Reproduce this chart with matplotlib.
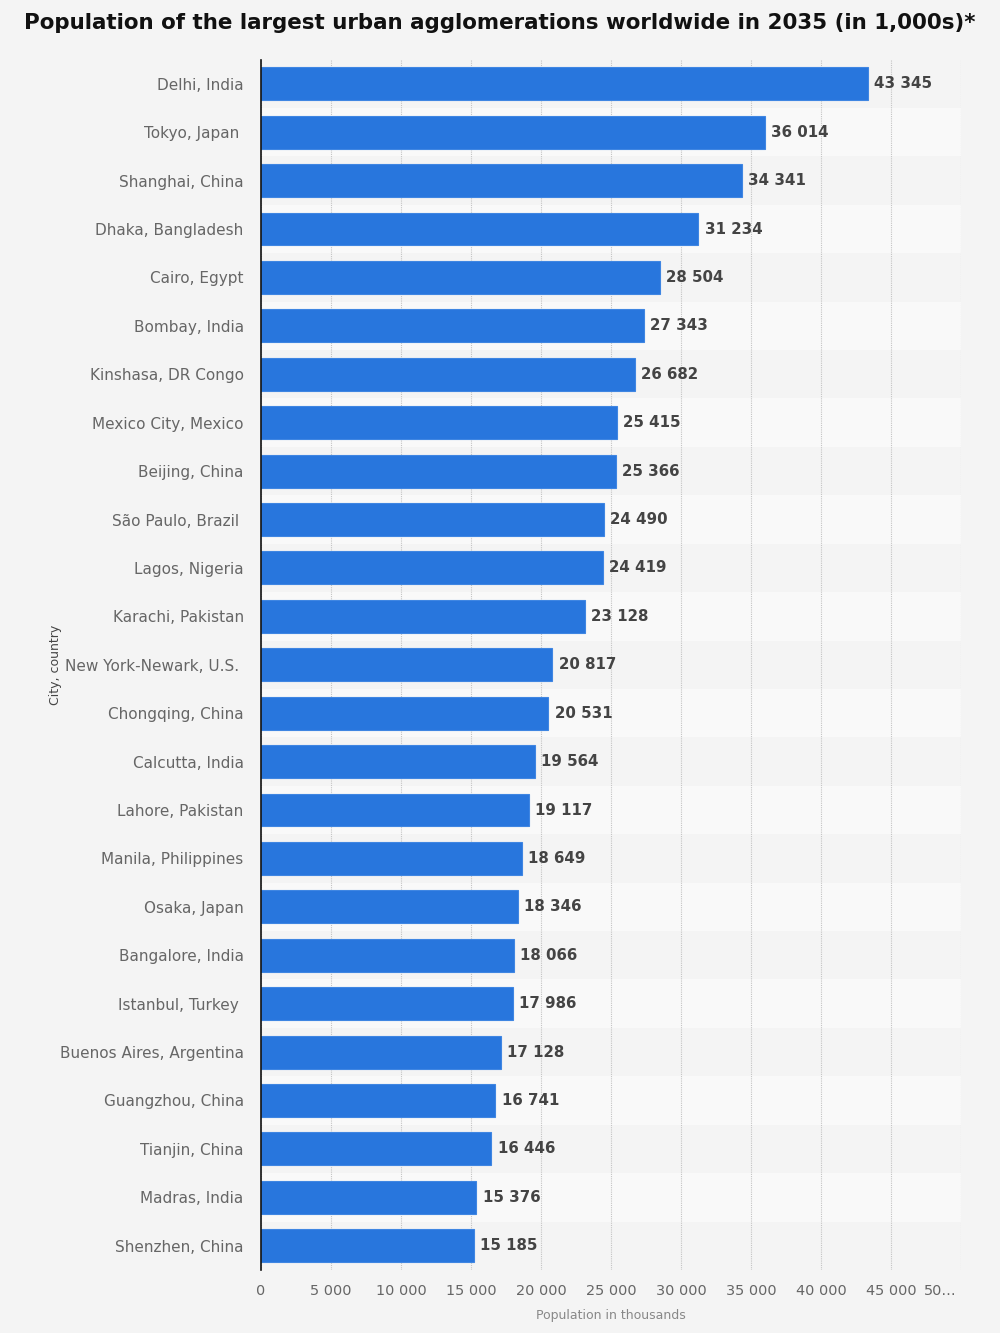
import matplotlib
matplotlib.use("Agg")
import matplotlib.pyplot as plt
import matplotlib.transforms as mtransforms

cities = [
    "Delhi, India", "Tokyo, Japan ", "Shanghai, China", "Dhaka, Bangladesh",
    "Cairo, Egypt", "Bombay, India", "Kinshasa, DR Congo", "Mexico City, Mexico",
    "Beijing, China", "São Paulo, Brazil ", "Lagos, Nigeria", "Karachi, Pakistan",
    "New York-Newark, U.S. ", "Chongqing, China", "Calcutta, India",
    "Lahore, Pakistan", "Manila, Philippines", "Osaka, Japan", "Bangalore, India",
    "Istanbul, Turkey ", "Buenos Aires, Argentina", "Guangzhou, China",
    "Tianjin, China", "Madras, India", "Shenzhen, China",
]
population = [
    43345, 36014, 34341, 31234, 28504, 27343, 26682, 25415, 25366, 24490,
    24419, 23128, 20817, 20531, 19564, 19117, 18649, 18346, 18066, 17986,
    17128, 16741, 16446, 15376, 15185,
]
x_ticks = [0, 5000, 10000, 15000, 20000, 25000, 30000, 35000, 40000, 45000, 50000]
x_tick_labels = ["0", "5 000", "10 000", "15 000", "20 000", "25 000",
                 "30 000", "35 000", "40 000", "45 000", "50…"]

BG = "#f4f4f4"
BAND = "#f9f9f9"
BAR = "#2876dd"

plt.rcParams['font.family'] = ['DejaVu Sans']

fig = plt.figure(figsize=(10, 13.33), dpi=100, facecolor=BG)
ax = fig.add_axes([0.261, 0.0473, 0.70, 0.908])
ax.set_facecolor(BG)

n = len(cities)
ypos = list(range(n))

# alternating row bands
for i in ypos:
    ax.axhspan(i - 0.5, i + 0.5, color=BAND if i % 2 else BG, zorder=0, lw=0)

ax.barh(ypos, population, height=0.68, color=BAR, edgecolor="#3f86e2",
        linewidth=0.8, zorder=3)

for y, v in zip(ypos, population):
    ax.text(v + 450, y, f"{v:,}".replace(",", " "), va="center", ha="left",
            fontsize=10.8, fontweight="bold", color="#444444", zorder=4)

ax.set_ylim(n - 0.5, -0.5)
ax.set_xlim(0, 50000)
ax.set_yticks(ypos)
ax.set_yticklabels(cities, fontsize=11, color="#666666")
ax.set_xticks(x_ticks)
ax.set_xticklabels(x_tick_labels, fontsize=10.4, color="#666666")
ax.tick_params(axis="both", length=0)
ax.tick_params(axis="x", pad=10)
ax.tick_params(axis="y", pad=12.5)

# last x label is truncated and pulled inside the axis
last = ax.get_xticklabels()[-1]
last.set_horizontalalignment("right")
last.set_transform(last.get_transform() +
                   mtransforms.ScaledTranslation(-4 / 100, 0, fig.dpi_scale_trans))

ax.grid(axis="x", color="#c4c4c4", linestyle=(0, (1, 1)), linewidth=0.8, zorder=1)
ax.set_axisbelow(True)
for side in ["top", "right", "bottom"]:
    ax.spines[side].set_visible(False)
ax.spines["left"].set_color("#111111")
ax.spines["left"].set_linewidth(1.2)
ax.spines["left"].set_zorder(5)

ax.set_xlabel("Population in thousands", fontsize=9, color="#888888", labelpad=8)
fig.text(0.055, 0.501, "City, country", rotation=90, fontsize=9,
         color="#444444", ha="center", va="center")

fig.text(0.5, 0.983, "Population of the largest urban agglomerations worldwide in 2035 (in 1,000s)*",
         ha="center", va="center", fontsize=15.4, fontweight="bold", color="#111111")

fig.savefig("out.png", dpi=100, facecolor=BG)
